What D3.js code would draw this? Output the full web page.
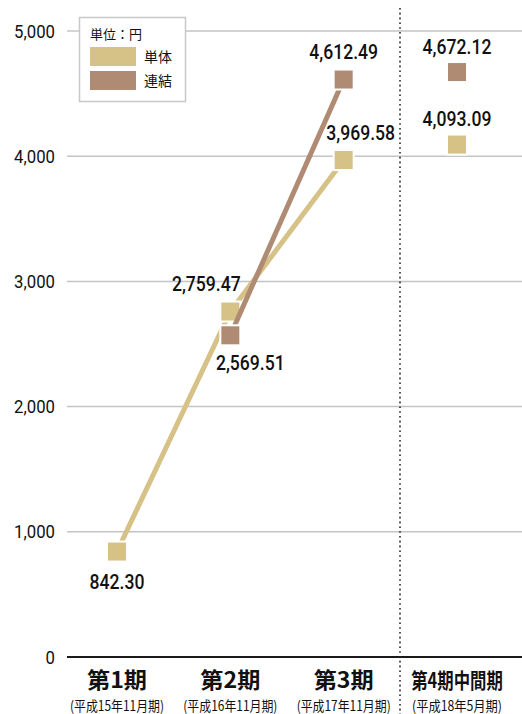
<!DOCTYPE html>
<html>
<head>
<meta charset="utf-8">
<script src="https://cdn.jsdelivr.net/npm/d3@7"></script>
<style>
  html, body { margin: 0; padding: 0; background: #fff; }
  svg { display: block; }
</style>
</head>
<body>
<svg id="chart" width="522" height="714"></svg>
<script>
// Per-share net assets (円) by fiscal period
const periods = ["第1期", "第2期", "第3期", "第4期中間期"];
const periodNotes = ["(平成15年11月期)", "(平成16年11月期)", "(平成17年11月期)", "(平成18年5月期)"];
const standalone = [842.30, 2759.47, 3969.58, 4093.09];      // 単体
const consolidated = [null, 2569.51, 4612.49, 4672.12];      // 連結
const yTicks = [0, 1000, 2000, 3000, 4000, 5000];
const seriesNames = ["単体", "連結"];
const unitLabel = "単位：円";

const tan = "#d6c187";
const brown = "#b08b73";
const numFont = "Roboto, 'Liberation Sans', sans-serif";
const cjkFont = "'Noto Sans CJK JP', 'Noto Sans', sans-serif";

const svg = d3.select("#chart");

const x = d3.scalePoint().domain(periods).range([117, 457]);
const y = d3.scaleLinear().domain([0, 5000]).range([657, 31]);

// Horizontal gridlines
svg.append("g").selectAll("line").data(yTicks.filter(d => d > 0)).join("line")
  .attr("x1", 67).attr("x2", 522)
  .attr("y1", d => y(d)).attr("y2", d => y(d))
  .attr("stroke", "#c4c4c4").attr("stroke-width", 1.5);

// Baseline
svg.append("line").attr("x1", 67).attr("x2", 522)
  .attr("y1", y(0)).attr("y2", y(0))
  .attr("stroke", "#1a1a1a").attr("stroke-width", 2);

// Y tick labels (slightly condensed numerals)
svg.append("g").selectAll("text").data(yTicks).join("text")
  .attr("transform", d => `translate(55,${y(d) + 6.5}) scale(0.93,1)`)
  .attr("text-anchor", "end")
  .attr("font-family", numFont).attr("font-size", 18)
  .attr("fill", "#111")
  .text(d => d3.format(",")(d));

// Divider before the interim period
svg.append("line").attr("x1", 400).attr("x2", 400)
  .attr("y1", 8).attr("y2", 714)
  .attr("stroke", "#222").attr("stroke-width", 1.6)
  .attr("stroke-dasharray", "1.6,3.2");

// Category labels (horizontally condensed)
const cat = svg.append("g");
cat.selectAll("text.main").data(periods).join("text").attr("class", "main")
  .attr("transform", (d, i) => `translate(${x(d)},688) scale(${i === 3 ? 0.78 : 1},1)`)
  .attr("text-anchor", "middle")
  .attr("font-family", cjkFont).attr("font-weight", "bold")
  .attr("font-size", (d, i) => i === 3 ? 21 : 22)
  .attr("textLength", (d, i) => i === 3 ? null : 60)
  .attr("lengthAdjust", "spacingAndGlyphs")
  .attr("fill", "#111")
  .text(d => d);
cat.selectAll("text.note").data(periodNotes).join("text").attr("class", "note")
  .attr("x", (d, i) => x(periods[i])).attr("y", 711)
  .attr("text-anchor", "middle")
  .attr("font-family", cjkFont).attr("font-size", 14)
  .attr("textLength", (d, i) => i === 3 ? 90 : 94)
  .attr("lengthAdjust", "spacingAndGlyphs")
  .attr("fill", "#111")
  .text(d => d);

// Lines are only drawn across the full-year periods (first three)
const line = d3.line()
  .defined(d => d.v != null)
  .x(d => x(d.p)).y(d => y(d.v));

const sData = standalone.map((v, i) => ({ p: periods[i], v }));
const cData = consolidated.map((v, i) => ({ p: periods[i], v }));

function drawSeries(data, color) {
  svg.append("path").datum(data.slice(0, 3))
    .attr("d", line)
    .attr("fill", "none").attr("stroke", color).attr("stroke-width", 5);
  const s = 20;
  svg.append("g").selectAll("rect").data(data.filter(d => d.v != null)).join("rect")
    .attr("x", d => x(d.p) - s / 2).attr("y", d => y(d.v) - s / 2)
    .attr("width", s).attr("height", s)
    .attr("fill", color).attr("stroke", "#fff").attr("stroke-width", 2);
}
drawSeries(sData, tan);
drawSeries(cData, brown);

// Value labels (offsets relative to each marker)
const fmt = d3.format(",.2f");
const sOffsets = [[0, 37], [-24, -21], [17, -20], [0, -19]];
const cOffsets = [null, [20, 35], [0, -21], [0, -18]];
function drawLabels(data, offs) {
  svg.append("g").selectAll("text").data(data.map((d, i) => ({ ...d, o: offs[i] })).filter(d => d.v != null))
    .join("text")
    .attr("transform", d => `translate(${x(d.p) + d.o[0]},${y(d.v) + d.o[1]}) scale(0.88,1)`)
    .attr("text-anchor", "middle")
    .attr("font-family", numFont).attr("font-size", 20).attr("font-weight", 500)
    .attr("fill", "#111")
    .text(d => fmt(d.v));
}
drawLabels(sData, sOffsets);
drawLabels(cData, cOffsets);

// Legend
const lg = svg.append("g");
lg.append("rect").attr("x", 79.5).attr("y", 17.5).attr("width", 106).attr("height", 84)
  .attr("fill", "#fff").attr("stroke", "#c8c8c8").attr("stroke-width", 1.5);
lg.append("text").attr("x", 90).attr("y", 39)
  .attr("font-family", cjkFont).attr("font-size", 13).attr("fill", "#111")
  .text(unitLabel);
[tan, brown].forEach((c, i) => {
  lg.append("rect").attr("x", 90).attr("y", 47 + i * 24).attr("width", 46).attr("height", 19).attr("fill", c);
  lg.append("text").attr("x", 144).attr("y", 62 + i * 24)
    .attr("font-family", cjkFont).attr("font-size", 14).attr("fill", "#111")
    .text(seriesNames[i]);
});
</script>
</body>
</html>
